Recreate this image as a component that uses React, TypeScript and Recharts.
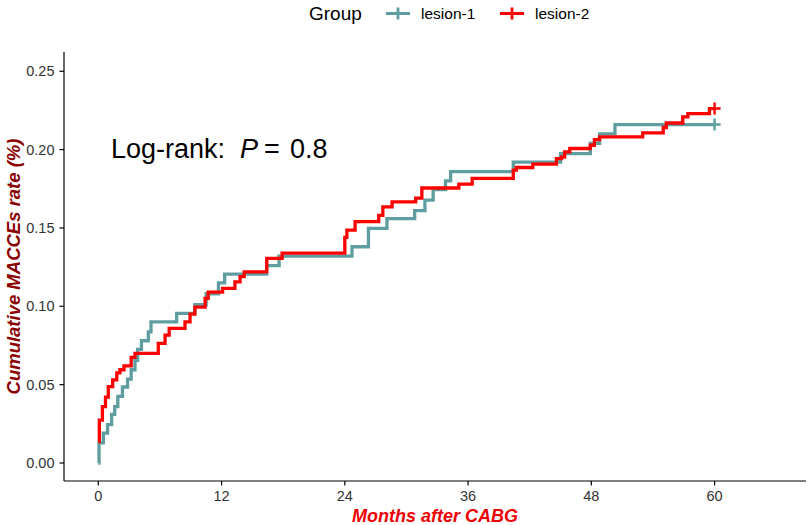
import React from 'react';
import { LineChart, Line, XAxis, YAxis } from 'recharts';

const groupNames = ['lesion-1', 'lesion-2'];
const groupColors = ['#5F9EA0', '#FF0000'];

const lesion1Times = [0, 0.07, 0.49, 0.9, 1.3, 1.6, 1.9, 2.35, 2.85, 3.2, 3.57, 3.83, 4.2, 4.87, 5.13, 7.63, 9.4, 10.5, 11.7, 12.3, 16.4, 17.6, 24.7, 26.3, 28.1, 30.8, 31.8, 32.6, 33.8, 34.3, 40.4, 45.0, 47.9, 48.8, 50.3, 60];
const lesion1Rates = [0, 0.0128, 0.019, 0.0245, 0.031, 0.036, 0.0425, 0.0485, 0.0535, 0.0595, 0.0655, 0.0725, 0.078, 0.0837, 0.09, 0.0955, 0.101, 0.108, 0.115, 0.1205, 0.126, 0.132, 0.138, 0.1497, 0.156, 0.161, 0.1677, 0.1745, 0.18, 0.186, 0.192, 0.1975, 0.204, 0.21, 0.216, 0.216];
const lesion1Censor = [60];

const lesion2Times = [0, 0.1, 0.4, 0.7, 0.97, 1.4, 1.8, 2.1, 2.5, 3.2, 3.57, 5.84, 6.5, 6.9, 8.44, 8.93, 9.4, 10.4, 10.7, 12.1, 13.3, 13.8, 14.2, 16.4, 17.9, 24.0, 24.2, 25.0, 27.3, 27.7, 28.6, 30.9, 31.5, 35.1, 36.4, 40.4, 40.7, 42.3, 44.6, 45.1, 45.4, 45.9, 47.9, 48.3, 48.8, 53.0, 55.0, 55.3, 56.9, 57.4, 59.5, 60];
const lesion2Rates = [0.0136, 0.0274, 0.036, 0.042, 0.0487, 0.053, 0.0575, 0.0595, 0.062, 0.0674, 0.07, 0.0763, 0.0816, 0.0859, 0.09, 0.095, 0.0995, 0.105, 0.109, 0.1115, 0.1156, 0.119, 0.122, 0.1306, 0.134, 0.144, 0.1486, 0.154, 0.158, 0.1635, 0.1667, 0.169, 0.1755, 0.178, 0.1816, 0.1869, 0.1886, 0.1907, 0.1943, 0.1953, 0.1985, 0.2007, 0.2028, 0.2064, 0.2081, 0.2107, 0.2141, 0.217, 0.2209, 0.223, 0.2262, 0.2262];
const lesion2Censor = [60];

const xTicks = [0, 12, 24, 36, 48, 60];
const yTicks = [0, 0.05, 0.1, 0.15, 0.2, 0.25];

const xTitle = 'Months after CABG';
const yTitle = 'Cumulative MACCEs rate (%)';
const legendTitle = 'Group';
const pValueText = '0.8';

const build = (times: number[], rates: number[], censor: number[]) =>
  times.map((t, i) => ({ t, v: rates[i], censor: censor.includes(t) }));

const data1 = build(lesion1Times, lesion1Rates, lesion1Censor);
const data2 = build(lesion2Times, lesion2Rates, lesion2Censor);

const FONT = '"Liberation Sans", Arial, Helvetica, sans-serif';

const censorDot = (color: string) => (props: any) => {
  const { cx, cy, payload, index } = props;
  if (!payload || !payload.censor || cx == null || cy == null) {
    return <g key={`d-${color}-${index}`} />;
  }
  return (
    <path
      key={`d-${color}-${index}`}
      d={`M${cx - 6},${cy}h12M${cx},${cy - 6}v12`}
      stroke={color}
      strokeWidth={2.4}
      fill="none"
    />
  );
};

const YTitle = (props: any) => {
  const vb = props.viewBox || { x: 0, y: 52, width: 64, height: 429 };
  const cx = 13;
  const cy = vb.y + vb.height / 2;
  return (
    <text
      x={cx}
      y={cy}
      transform={`rotate(-90 ${cx} ${cy})`}
      textAnchor="middle"
      dominantBaseline="central"
      fontFamily={FONT}
      fontSize={18.5}
      fontWeight="bold"
      fontStyle="italic"
      fill="#8B0000"
    >
      {yTitle}
    </text>
  );
};

const XTitle = (props: any) => {
  const vb = props.viewBox || { x: 64, y: 481, width: 742, height: 44 };
  return (
    <text
      x={vb.x + vb.width / 2}
      y={522}
      textAnchor="middle"
      fontFamily={FONT}
      fontSize={18}
      fontWeight="bold"
      fontStyle="italic"
      fill="#EE0000"
    >
      {xTitle}
    </text>
  );
};

export default function App() {
  return (
    <div style={{ position: 'relative', width: 809, height: 525, background: '#fff' }}>
      <style>{'body{margin:0;}'}</style>
      <LineChart
        width={809}
        height={525}
        margin={{ top: 52, right: 3, bottom: 0, left: 0 }}
      >
        <XAxis
          type="number"
          dataKey="t"
          domain={[-3.34, 68.9]}
          allowDataOverflow
          ticks={xTicks}
          tickSize={4.5}
          tickMargin={5}
          height={44}
          stroke="#000"
          strokeWidth={1.2}
          tick={{ fontFamily: FONT, fontSize: 14.5, fill: '#333' }}
          tickLine={{ stroke: '#000', strokeWidth: 1.2 }}
          label={<XTitle />}
        />
        <YAxis
          type="number"
          domain={[-0.0115, 0.2623]}
          allowDataOverflow
          ticks={yTicks}
          tickFormatter={(v: number) => v.toFixed(2)}
          tickSize={4.5}
          tickMargin={5}
          width={64}
          stroke="#000"
          strokeWidth={1.2}
          tick={{ fontFamily: FONT, fontSize: 14.5, fill: '#333' }}
          tickLine={{ stroke: '#000', strokeWidth: 1.2 }}
          label={<YTitle />}
        />
        <Line
          data={data1}
          dataKey="v"
          name={groupNames[0]}
          type="stepAfter"
          stroke={groupColors[0]}
          strokeWidth={3.3}
          dot={censorDot(groupColors[0])}
          activeDot={false}
          isAnimationActive={false}
        />
        <Line
          data={data2}
          dataKey="v"
          name={groupNames[1]}
          type="stepAfter"
          stroke={groupColors[1]}
          strokeWidth={3.3}
          dot={censorDot(groupColors[1])}
          activeDot={false}
          isAnimationActive={false}
        />
      </LineChart>
      <svg
        width={809}
        height={40}
        style={{ position: 'absolute', left: 0, top: 0, pointerEvents: 'none' }}
      >
        <text x={309} y={20} fontFamily={FONT} fontSize={19} fill="#000">
          {legendTitle}
        </text>
        <path d="M386,13.5h24M398,7.5v12" stroke={groupColors[0]} strokeWidth={2.8} fill="none" />
        <text x={421} y={19} fontFamily={FONT} fontSize={15.5} fill="#000">
          {groupNames[0]}
        </text>
        <path d="M500,13.5h24M512,7.5v12" stroke={groupColors[1]} strokeWidth={2.8} fill="none" />
        <text x={535} y={19} fontFamily={FONT} fontSize={15.5} fill="#000">
          {groupNames[1]}
        </text>
      </svg>
      <svg
        width={400}
        height={60}
        style={{ position: 'absolute', left: 0, top: 120, pointerEvents: 'none' }}
      >
        <text y={38} fontFamily={FONT} fontSize={27} fill="#000">
          <tspan x={111}>Log-rank:</tspan>
          <tspan x={240} fontStyle="italic">P</tspan>
          <tspan x={264}>=</tspan>
          <tspan x={290}>{pValueText}</tspan>
        </text>
      </svg>
    </div>
  );
}
